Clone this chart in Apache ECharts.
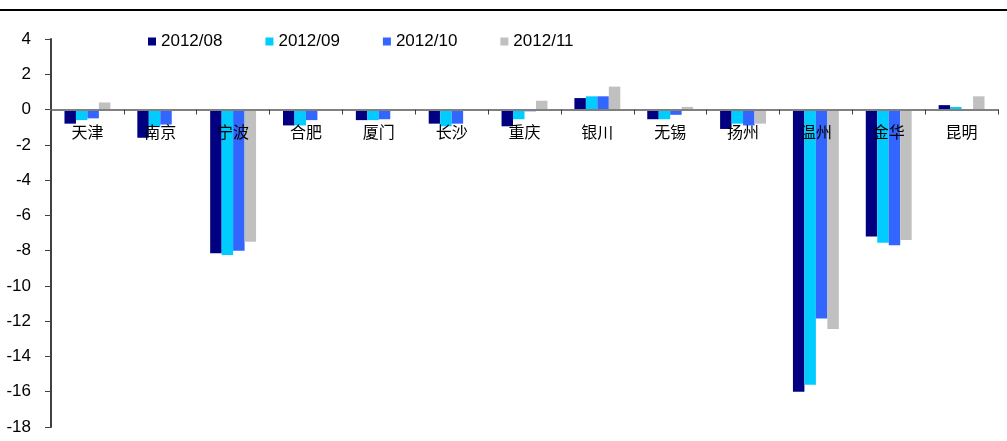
<!DOCTYPE html>
<html>
<head>
<meta charset="utf-8">
<script src="https://cdn.jsdelivr.net/npm/echarts@6/dist/echarts.min.js"></script>
<style>
  html, body { margin: 0; padding: 0; background: #fff; }
  #chart { width: 1007px; height: 441px; }
</style>
</head>
<body>
<div id="chart"></div>
<script>
// Cities along the x axis
const cities = ['天津', '南京', '宁波', '合肥', '厦门', '长沙', '重庆', '银川', '无锡', '扬州', '温州', '金华', '昆明'];

// Monthly values per city
const months = ['2012/08', '2012/09', '2012/10', '2012/11'];
const aug2012 = [-0.8, -1.6, -8.15, -0.9, -0.6, -0.8, -0.95, 0.65, -0.55, -1.1, -16.0, -7.2, 0.25];
const sep2012 = [-0.6, -1.0, -8.25, -0.9, -0.6, -0.95, -0.55, 0.75, -0.55, -0.8, -15.6, -7.55, 0.15];
const oct2012 = [-0.5, -0.85, -8.0, -0.6, -0.55, -0.8, -0.1, 0.75, -0.3, -0.9, -11.85, -7.7, 0];
const nov2012 = [0.4, -0.05, -7.5, 0, -0.05, 0, 0.5, 1.3, 0.15, -0.8, -12.45, -7.4, 0.75];

// Y axis range
const yMin = -18;
const yMax = 4;
const yStep = 2;

const seriesValues = [aug2012, sep2012, oct2012, nov2012];
const colors = ['#000080', '#00CCFF', '#3366FF', '#C0C0C0'];

const chart = echarts.init(document.getElementById('chart'), null, { renderer: 'canvas' });

chart.setOption({
  animation: false,
  backgroundColor: '#ffffff',
  graphic: [{
    type: 'rect',
    left: 0,
    top: 9,
    shape: { width: 1007, height: 2 },
    style: { fill: '#000000' }
  }],
  legend: {
    left: 148,
    top: 33,
    padding: 0,
    icon: 'rect',
    itemWidth: 8,
    itemHeight: 8,
    itemGap: 43,
    textStyle: { fontFamily: 'Liberation Sans, Arial, sans-serif', fontSize: 17, color: '#000' },
    data: months
  },
  grid: { left: 51, right: 9, top: 39, bottom: 14, outerBoundsMode: 'none', containLabel: false },
  xAxis: {
    type: 'category',
    data: cities,
    z: 5,
    position: 'bottom',
    axisLine: { onZero: false, lineStyle: { color: '#808080', width: 2 } },
    axisTick: { show: true, length: 5, inside: false, lineStyle: { color: '#404040', width: 1 } },
    axisLabel: {
      margin: 14,
      fontFamily: 'Noto Sans CJK SC, sans-serif',
      fontSize: 16,
      color: '#000'
    }
  },
  yAxis: {
    type: 'value',
    min: yMin,
    max: yMax,
    interval: yStep,
    axisLine: { show: true, lineStyle: { color: '#404040', width: 2 } },
    axisTick: { show: true, length: 6, lineStyle: { color: '#404040', width: 1 } },
    splitLine: { show: false },
    axisLabel: {
      margin: 20,
      fontFamily: 'Liberation Sans, Arial, sans-serif',
      fontSize: 17,
      color: '#000'
    }
  },
  series: months.map((m, i) => ({
    name: m,
    type: 'bar',
    data: seriesValues[i],
    barGap: '0%',
    barCategoryGap: '37%',
    itemStyle: { color: colors[i] }
  }))
});

// Move the category axis (line, ticks and labels) up to the zero line
const zeroY = chart.convertToPixel({ yAxisIndex: 0 }, 0);
const floorY = chart.convertToPixel({ yAxisIndex: 0 }, yMin);
chart.setOption({ xAxis: { offset: -(floorY - zeroY) } });
</script>
</body>
</html>
